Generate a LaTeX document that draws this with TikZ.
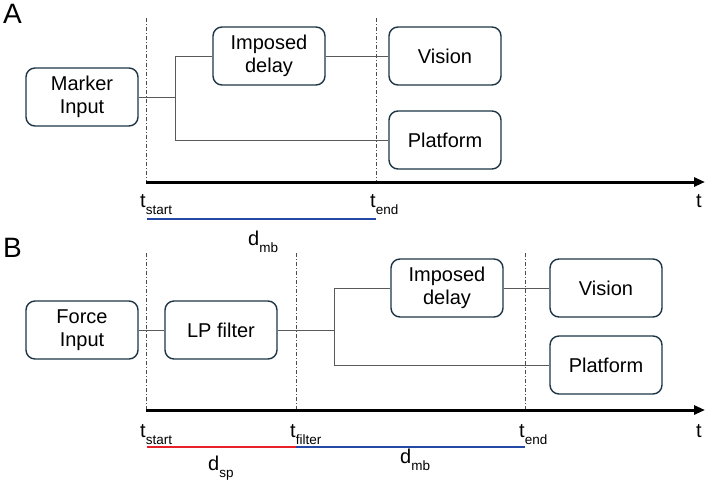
\documentclass[tikz,border=0pt]{standalone}
\usepackage{fontspec}
\setmainfont{Liberation Sans}
\usetikzlibrary{arrows.meta}
\definecolor{boxline}{HTML}{1D3545}
\definecolor{wirec}{HTML}{5A5A5A}
\definecolor{mbblue}{HTML}{2448A6}
\definecolor{spred}{HTML}{E8202A}
\newcommand{\tlab}[2]{#1\raisebox{-7pt}{\fontsize{13.5}{14}\selectfont #2}}
\begin{document}
\begin{tikzpicture}[x=1pt,y=1pt]
  \tikzstyle{box}=[draw=boxline,line width=1.4pt,rounded corners=9pt,
                   minimum width=112pt,minimum height=58pt,align=center,
                   font=\fontsize{20}{22.5}\selectfont]
  \tikzstyle{wire}=[draw=wirec,line width=0.9pt]
  \tikzstyle{guide}=[draw=black!70,line width=0.7pt,dash pattern=on 4pt off 2pt on 1pt off 2pt]
  \tikzstyle{axis}=[line width=3pt,-{Triangle[length=11pt,width=9pt]}]
  \tikzstyle{lab}=[anchor=base west,inner sep=0pt,font=\fontsize{20}{22}\selectfont]
  \useasboundingbox (0,0) rectangle (706,-482);
  % panel A
  \node[lab,font=\fontsize{28}{30}\selectfont] (panA) at (3,-23) {A};
  \draw[guide] (146,-18) -- (146,-182);
  \draw[guide] (376,-18) -- (376,-182);
  \node[box] (markerA)   at (82,-97)  {Marker\\Input};
  \node[box] (delayA)    at (269,-56) {Imposed\\delay};
  \node[box] (visionA)   at (445,-56) {Vision};
  \node[box] (platformA) at (445,-140) {Platform};
  \coordinate (splitA) at (175,-97);
  \draw[wire] (markerA) -- (splitA) |- (delayA);
  \draw[wire] (splitA) |- (platformA);
  \draw[wire] (delayA) -- (visionA);
  \coordinate (axA0) at (146,-182);
  \coordinate (axA1) at (705,-182);
  \draw[axis] (axA0) -- (axA1);
  \node[lab] (tstartA) at (140,-207) {\tlab{t}{start}};
  \node[lab] (tendA)   at (370,-207) {\tlab{t}{end}};
  \node[lab] (tA)      at (696,-207) {t};
  \draw[mbblue,line width=2.8pt] (147,-219) -- (376,-219);
  \node[lab] (dmbA) at (248,-245) {\tlab{d}{mb}};
  % panel B
  \node[lab,font=\fontsize{28}{30}\selectfont] (panB) at (3,-257) {B};
  \draw[guide] (146,-253) -- (146,-410);
  \draw[guide] (296,-253) -- (296,-410);
  \draw[guide] (525,-253) -- (525,-410);
  \node[box] (forceB)    at (82,-330)  {Force\\Input};
  \node[box] (filterB)   at (221,-330) {LP filter};
  \node[box] (delayB)    at (447,-288) {Imposed\\delay};
  \node[box] (visionB)   at (606,-288) {Vision};
  \node[box] (platformB) at (606,-365) {Platform};
  \coordinate (splitB) at (334,-330);
  \draw[wire] (forceB) -- (filterB);
  \draw[wire] (filterB) -- (splitB) |- (delayB);
  \draw[wire] (splitB) |- (platformB);
  \draw[wire] (delayB) -- (visionB);
  \coordinate (axB0) at (146,-410);
  \coordinate (axB1) at (705,-410);
  \draw[axis] (axB0) -- (axB1);
  \node[lab] (tstartB)  at (140,-437) {\tlab{t}{start}};
  \node[lab] (tfilterB) at (290,-437) {\tlab{t}{filter}};
  \node[lab] (tendB)    at (519,-437) {\tlab{t}{end}};
  \node[lab] (tB)       at (696,-437) {t};
  \draw[spred,line width=2.8pt] (147,-447) -- (296,-447);
  \draw[mbblue,line width=2.8pt] (296,-447) -- (525,-447);
  \node[lab] (dspB) at (208,-470) {\tlab{d}{sp}};
  \node[lab] (dmbB) at (400,-463) {\tlab{d}{mb}};
\end{tikzpicture}
\end{document}
